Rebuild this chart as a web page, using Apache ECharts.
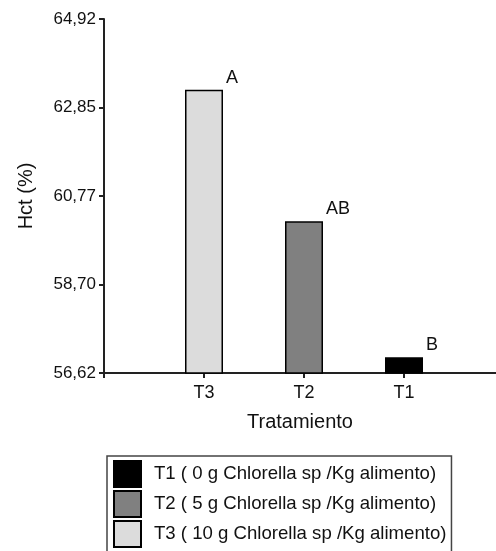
<!DOCTYPE html>
<html>
<head>
<meta charset="utf-8">
<script src="https://cdn.jsdelivr.net/npm/echarts@6/dist/echarts.min.js"></script>
<style>
html,body{margin:0;padding:0;background:#fff;}
#chart{width:496px;height:551px;}
</style>
</head>
<body>
<div id="chart"></div>
<script>
var categories = ['T3', 'T2', 'T1'];
var categoryPositions = [1, 2, 3];
var seriesNames = ['T1 ( 0 g Chlorella sp /Kg alimento)', 'T2 ( 5 g Chlorella sp /Kg alimento)', 'T3 ( 10 g Chlorella sp /Kg alimento)'];
var seriesCategory = ['T1', 'T2', 'T3'];
var seriesValues = [56.99, 60.18, 63.26];
var seriesLetters = ['B', 'AB', 'A'];
var seriesColors = ['#000000', '#808080', '#dcdcdc'];
var yTicks = [56.62, 58.70, 60.77, 62.85, 64.92];
var yMin = 56.62, yMax = 64.92;
var xMin = 0, xMax = 3.92;

var FONT = '"Liberation Sans", Arial, sans-serif';
var series = seriesNames.map(function (name, i) {
  var pos = categoryPositions[categories.indexOf(seriesCategory[i])];
  return {
    name: name,
    type: 'bar',
    barWidth: 38,
    barGap: '-100%',
    data: [[pos, seriesValues[i]]],
    itemStyle: { color: seriesColors[i], borderColor: '#000', borderWidth: 1.5 },
    label: {
      show: true,
      position: ['100%', 0],
      offset: [3, -3],
      align: 'left',
      verticalAlign: 'bottom',
      formatter: seriesLetters[i],
      fontFamily: FONT,
      fontSize: 18,
      color: '#111'
    },
    silent: true
  };
});

var chart = echarts.init(document.getElementById('chart'), null, { renderer: 'canvas' });
chart.setOption({
  animation: false,
  backgroundColor: '#fff',
  grid: { left: 104, top: 19, right: 0, height: 354, containLabel: false, outerBoundsMode: 'none' },
  legend: {
    orient: 'vertical',
    left: 107,
    top: 456,
    height: 130,
    padding: [4, 5, 4, 6],
    itemGap: 2,
    itemWidth: 27,
    itemHeight: 26,
    icon: 'rect',
    borderColor: '#444',
    borderWidth: 1.5,
    data: seriesNames,
    textStyle: { fontFamily: FONT, fontSize: 18.6, color: '#111', padding: [0, 0, 0, 8] }
  },
  xAxis: {
    type: 'value',
    min: xMin,
    max: xMax,
    name: 'Tratamiento',
    nameLocation: 'middle',
    nameGap: 39,
    nameTextStyle: { fontFamily: FONT, fontSize: 20, color: '#111' },
    axisLine: { show: true, lineStyle: { color: '#222', width: 2 } },
    axisTick: { show: true, length: 5, customValues: [0].concat(categoryPositions), lineStyle: { color: '#222', width: 2 } },
    axisLabel: {
      margin: 11, fontFamily: FONT, fontSize: 18, color: '#111',
      customValues: categoryPositions,
      formatter: function (v) { var k = categoryPositions.indexOf(v); return k >= 0 ? categories[k] : ''; }
    },
    splitLine: { show: false }
  },
  yAxis: {
    type: 'value',
    min: yMin,
    max: yMax,
    name: 'Hct (%)',
    nameLocation: 'middle',
    nameGap: 68,
    nameTextStyle: { fontFamily: FONT, fontSize: 20, color: '#111' },
    axisLine: { show: true, lineStyle: { color: '#222', width: 2 } },
    axisTick: { show: true, length: 5, customValues: yTicks, lineStyle: { color: '#222', width: 2 } },
    axisLabel: {
      margin: 8,
      customValues: yTicks,
      fontFamily: FONT, fontSize: 17, color: '#111',
      formatter: function (v) { return v.toFixed(2).replace('.', ','); }
    },
    splitLine: { show: false }
  },
  series: series
});
</script>
</body>
</html>
